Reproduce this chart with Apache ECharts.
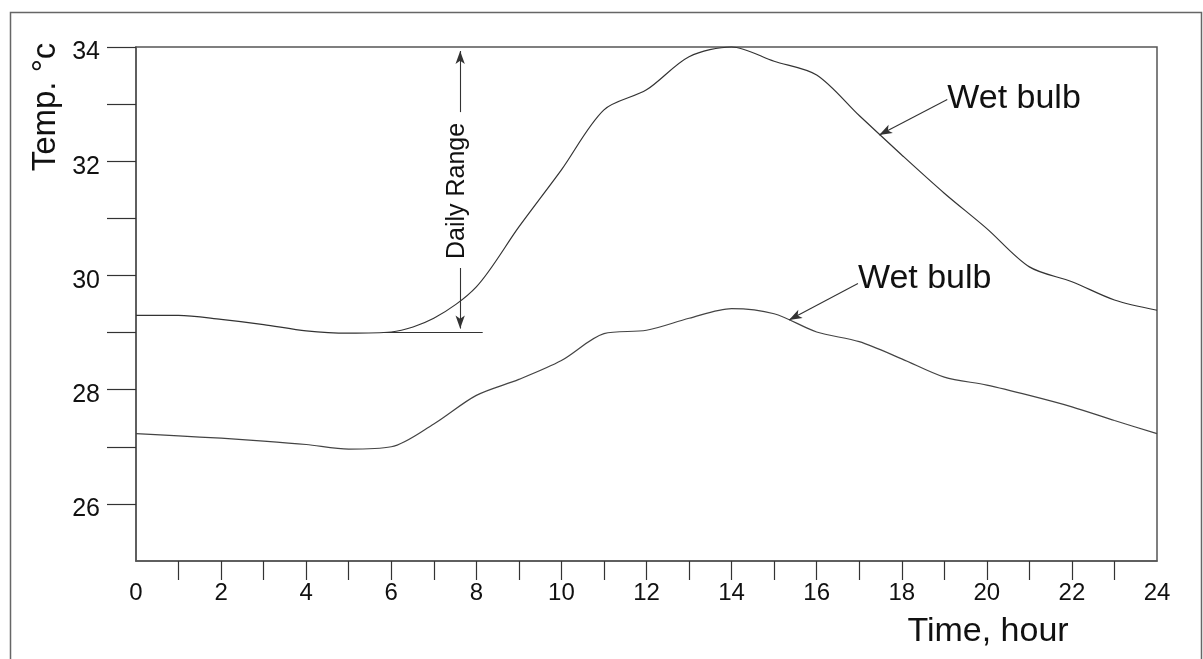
<!DOCTYPE html>
<html>
<head>
<meta charset="utf-8">
<script src="https://cdn.jsdelivr.net/npm/echarts@6/dist/echarts.min.js"></script>
<style>html,body{margin:0;padding:0;background:#fff}#c{width:1203px;height:659px}</style>
</head>
<body>
<div id="c"></div>
<script>
// ---- data ----
const hours = [0,1,2,3,4,5,6,7,8,9,10,11,12,13,14,15,16,17,18,19,20,21,22,23,24];
const upperTemp = [29.30,29.30,29.23,29.14,29.03,28.99,29.01,29.25,29.80,30.85,31.85,32.90,33.25,33.83,34.00,33.75,33.51,32.80,32.11,31.44,30.82,30.15,29.89,29.57,29.39];
const lowerTemp = [27.23,27.19,27.15,27.10,27.04,26.96,27.00,27.40,27.90,28.18,28.51,28.98,29.04,29.25,29.42,29.33,29.01,28.84,28.54,28.22,28.08,27.90,27.70,27.46,27.23];
const xTickValues = [1,2,3,4,5,6,7,8,9,10,11,12,13,14,15,16,17,18,19,20,21,22,23];
const xLabelValues = [0,2,4,6,8,10,12,14,16,18,20,22,24];
const yTickValues = [26,27,28,29,30,31,32,33,34];
const yLabelValues = [26,28,30,32,34];
const seriesLabel = 'Wet bulb';
const rangeLabel = 'Daily Range';
const xName = 'Time, hour';
const yName = 'Temp. °c';

const FONT = '"Liberation Sans", Arial, Helvetica, sans-serif';
const chart = echarts.init(document.getElementById('c'));

const pairs = (xs, ys) => xs.map((x, i) => [x, ys[i]]);
const arrowLine = (a, b, arrowAtEnd, arrowAtStart) => [
  { coord: a, symbol: arrowAtStart ? 'arrow' : 'none', symbolSize: [7, 13] },
  { coord: b, symbol: arrowAtEnd ? 'arrow' : 'none', symbolSize: [7, 13] }
];

chart.setOption({
  animation: false,
  backgroundColor: '#fff',
  grid: { left: 136, top: 47, right: 46, bottom: 98, show: true, borderColor: '#555', borderWidth: 1.5 },
  xAxis: {
    type: 'value', min: 0, max: 24, interval: 1,
    axisLine: { onZero: false, lineStyle: { color: '#555', width: 1.5 } },
    axisTick: { show: true, inside: false, length: 19, customValues: xTickValues, lineStyle: { color: '#333', width: 1.2 } },
    axisLabel: { customValues: xLabelValues, margin: 20, fontSize: 24, color: '#111', fontFamily: FONT },
    splitLine: { show: false }
  },
  yAxis: {
    type: 'value', min: 25, max: 34, interval: 1,
    axisLine: { show: true, lineStyle: { color: '#555', width: 1.5 } },
    axisTick: { show: true, inside: false, length: 29, customValues: yTickValues, lineStyle: { color: '#333', width: 1.2 } },
    axisLabel: { customValues: yLabelValues, margin: 36, fontSize: 25, color: '#111', fontFamily: FONT, verticalAlign: 'top', lineHeight: 11 },
    splitLine: { show: false }
  },
  series: [
    { type: 'line', data: pairs(hours, upperTemp), smooth: 0.3, showSymbol: false, clip: false,
      lineStyle: { color: '#333', width: 1.2 } },
    { type: 'line', data: pairs(hours, lowerTemp), smooth: 0.3, showSymbol: false,
      lineStyle: { color: '#444', width: 1.2 } },
    { type: 'line', data: [], silent: true,
      markLine: {
        silent: true, animation: false, label: { show: false },
        lineStyle: { color: '#333', width: 1.1, type: 'solid' },
        emphasis: { disabled: true },
        data: [
          arrowLine([19.07, 33.08], [17.47, 32.46], true, false),
          arrowLine([16.97, 29.86], [15.35, 29.22], true, false),
          arrowLine([7.62, 32.86], [7.62, 33.93], true, false),
          arrowLine([7.62, 30.13], [7.62, 29.07], true, false),
          arrowLine([5.8, 29.0], [8.15, 29.0], false, false)
        ]
      }
    }
  ]
});

const px = (h, v) => chart.convertToPixel({ gridIndex: 0 }, [h, v]);
const p1 = px(19.07, 33.1);
const p2 = px(16.97, 29.95);
const p3 = px(7.55, 31.48);
chart.setOption({
  graphic: [
    { type: 'rect', shape: { x: 10.5, y: 12.5, width: 1191, height: 700 }, style: { fill: 'none', stroke: '#666', lineWidth: 1.5 }, silent: true },
    { type: 'text', x: p1[0], y: p1[1], style: { text: seriesLabel, font: '34px ' + FONT, fill: '#111', textAlign: 'left', textVerticalAlign: 'middle' } },
    { type: 'text', x: p2[0], y: p2[1], style: { text: seriesLabel, font: '34px ' + FONT, fill: '#111', textAlign: 'left', textVerticalAlign: 'middle' } },
    { type: 'text', x: p3[0], y: p3[1], rotation: Math.PI / 2, style: { text: rangeLabel, font: '25px ' + FONT, fill: '#111', textAlign: 'center', textVerticalAlign: 'middle' } },
    { type: 'text', x: 988, y: 632, style: { text: xName, font: '34px ' + FONT, fill: '#111', textAlign: 'center', textVerticalAlign: 'middle' } },
    { type: 'text', x: 46, y: 107, rotation: Math.PI / 2, style: { text: yName, font: '33px ' + FONT, fill: '#111', textAlign: 'center', textVerticalAlign: 'middle' } }
  ]
});
</script>
</body>
</html>
